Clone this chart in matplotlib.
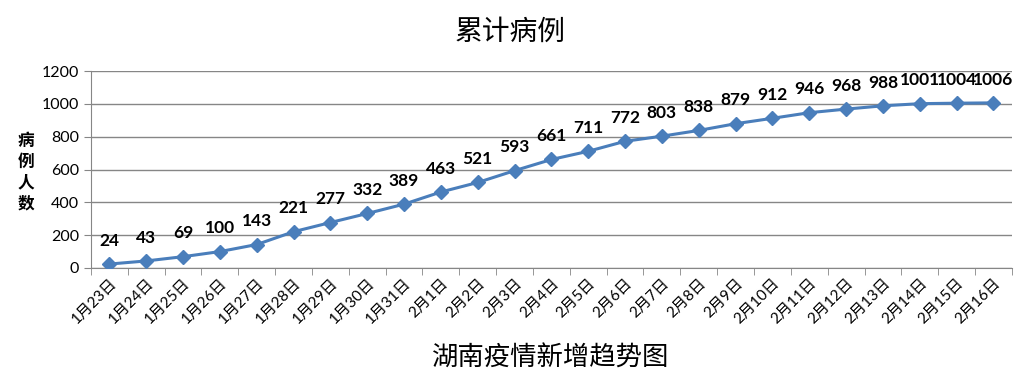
import matplotlib.pyplot as plt

plt.rcParams['font.family'] = ['Lato', 'Noto Sans CJK SC', 'DejaVu Sans']

dates = ['1月23日', '1月24日', '1月25日', '1月26日', '1月27日', '1月28日', '1月29日',
         '1月30日', '1月31日', '2月1日', '2月2日', '2月3日', '2月4日', '2月5日',
         '2月6日', '2月7日', '2月8日', '2月9日', '2月10日', '2月11日', '2月12日',
         '2月13日', '2月14日', '2月15日', '2月16日']
cases = [24, 43, 69, 100, 143, 221, 277, 332, 389, 463, 521, 593, 661, 711,
         772, 803, 838, 879, 912, 946, 968, 988, 1001, 1004, 1006]
y_ticks = [0, 200, 400, 600, 800, 1000, 1200]

fig = plt.figure(figsize=(10.2, 3.87), dpi=100)
ax = fig.add_axes([0.0892, 0.3075, 0.9028, 0.509])

x = list(range(len(dates)))
ax.plot(x, cases, color='#4A7EBB', lw=2.2, marker='D', ms=7, zorder=3)
for xi, v in zip(x, cases):
    ax.annotate(str(v), (xi, v), xytext=(0, 11), textcoords='offset points',
                ha='center', va='bottom', fontsize=12.5, fontweight='bold')

ax.set_xlim(-0.5, len(dates) - 0.5)
ax.set_ylim(0, 1200)
ax.set_yticks(y_ticks)
ax.grid(axis='y', color='#868686', lw=1)
ax.set_axisbelow(True)
for s in ['top', 'right']:
    ax.spines[s].set_visible(False)
for s in ['left', 'bottom']:
    ax.spines[s].set_color('#868686')

ax.set_xticks(x)
ax.set_xticklabels(dates, rotation=45, ha='right', rotation_mode='anchor', fontsize=11)
ax.set_xticks([i - 0.5 for i in range(len(dates) + 1)], minor=True)
ax.tick_params(axis='x', which='major', length=0, pad=6)
ax.tick_params(axis='x', which='minor', length=5, color='#868686')
ax.tick_params(axis='y', length=5, color='#868686', labelsize=11.5)

fig.text(0.5, 0.917, '累计病例', ha='center', va='center', fontsize=20,
         family=['Noto Sans CJK SC'])
fig.text(0.54, 0.075, '湖南疫情新增趋势图', ha='center', va='center', fontsize=19,
         family=['Noto Sans CJK SC'])
fig.text(0.025, 0.555, '病\n例\n人\n数', ha='center', va='center', fontsize=12,
         fontweight='bold', linespacing=1.2, family=['Noto Sans CJK SC'])

fig.savefig('out.png', dpi=100)
